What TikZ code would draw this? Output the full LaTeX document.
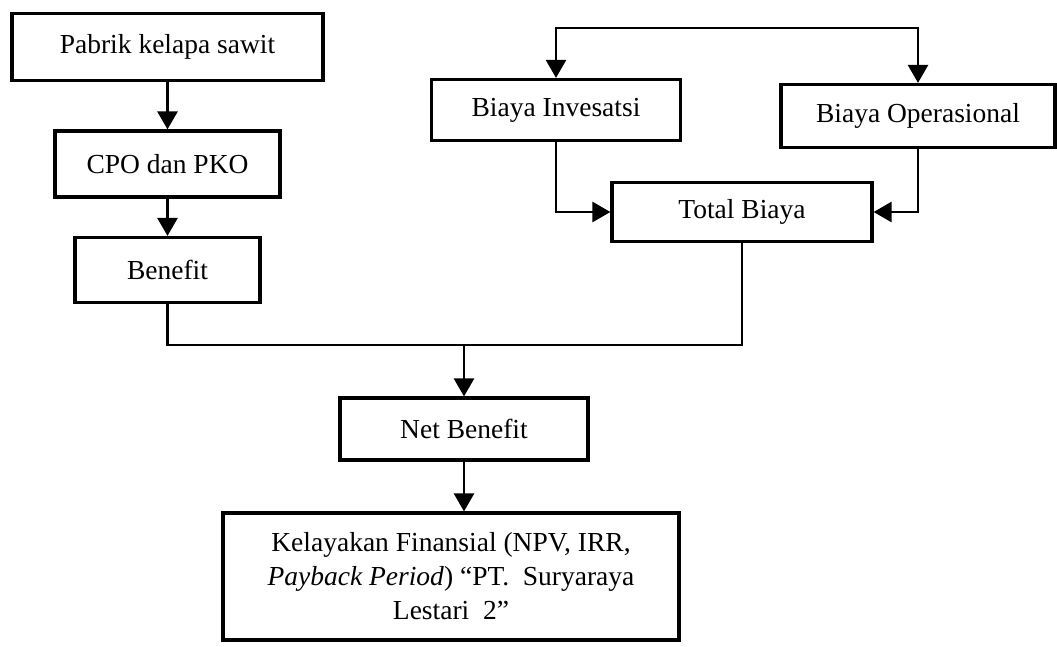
\documentclass[tikz,border=0pt]{standalone}
\usepackage{fontspec}
\setmainfont{Liberation Serif}
\usetikzlibrary{arrows.meta}
\tikzset{
  bx/.style={draw,line width=3.2pt,inner sep=0pt,align=center,font=\fontsize{27.5}{34}\selectfont},
  ln/.style={line width=2.7pt},
  ar/.style={line width=2.7pt,-{Triangle[length=18pt,width=20pt]}}
}

\begin{document}
\begin{tikzpicture}[x=1pt,y=-1pt]
\useasboundingbox (0,0) rectangle (1057,646);
% benefit side
\node[bx,minimum width=311pt,minimum height=67pt] (pks) at (167.5,47) {Pabrik kelapa sawit};
\node[bx,minimum width=225pt,minimum height=66pt] (cpo) at (167.5,164) {CPO dan PKO};
\node[bx,minimum width=185pt,minimum height=65pt] (bnf) at (167.5,270) {Benefit};
% cost side
\node[bx,minimum width=249pt,minimum height=61pt] (bi) at (556,110) {Biaya Invesatsi};
\node[bx,minimum width=274pt,minimum height=63pt] (bo) at (918,116) {Biaya Operasional};
\node[bx,minimum width=260pt,minimum height=59pt] (tb) at (742,212) {Total Biaya};
% result
\node[bx,minimum width=456pt,minimum height=127pt] (kf) at (451,576.5)
  {Kelayakan Finansial (NPV, IRR,\\ \textit{Payback Period}) “PT.\ \ Suryaraya\\ Lestari\ \ 2”};
\node[bx,minimum width=248pt,minimum height=62pt] (nb) at (464,429) {Net Benefit};
\coordinate (fork) at (737,28);
\coordinate (jn) at (464,345);
\draw[ar] (pks.south) -- (cpo.north);
\draw[ar] (cpo.south) -- (bnf.north);
\draw[ar] (fork) -| (bi.north);
\draw[ar] (fork) -| (bo.north);
\draw[ar] (bi.south) |- (tb.west);
\draw[ar] (bo.south) |- (tb.east);
\draw[ln] (bnf.south) |- (jn) -| (tb.south);
\draw[ar] (jn) -- (nb.north);
\draw[ar] (nb.south) -- (nb.south |- kf.north);
\end{tikzpicture}
\end{document}
